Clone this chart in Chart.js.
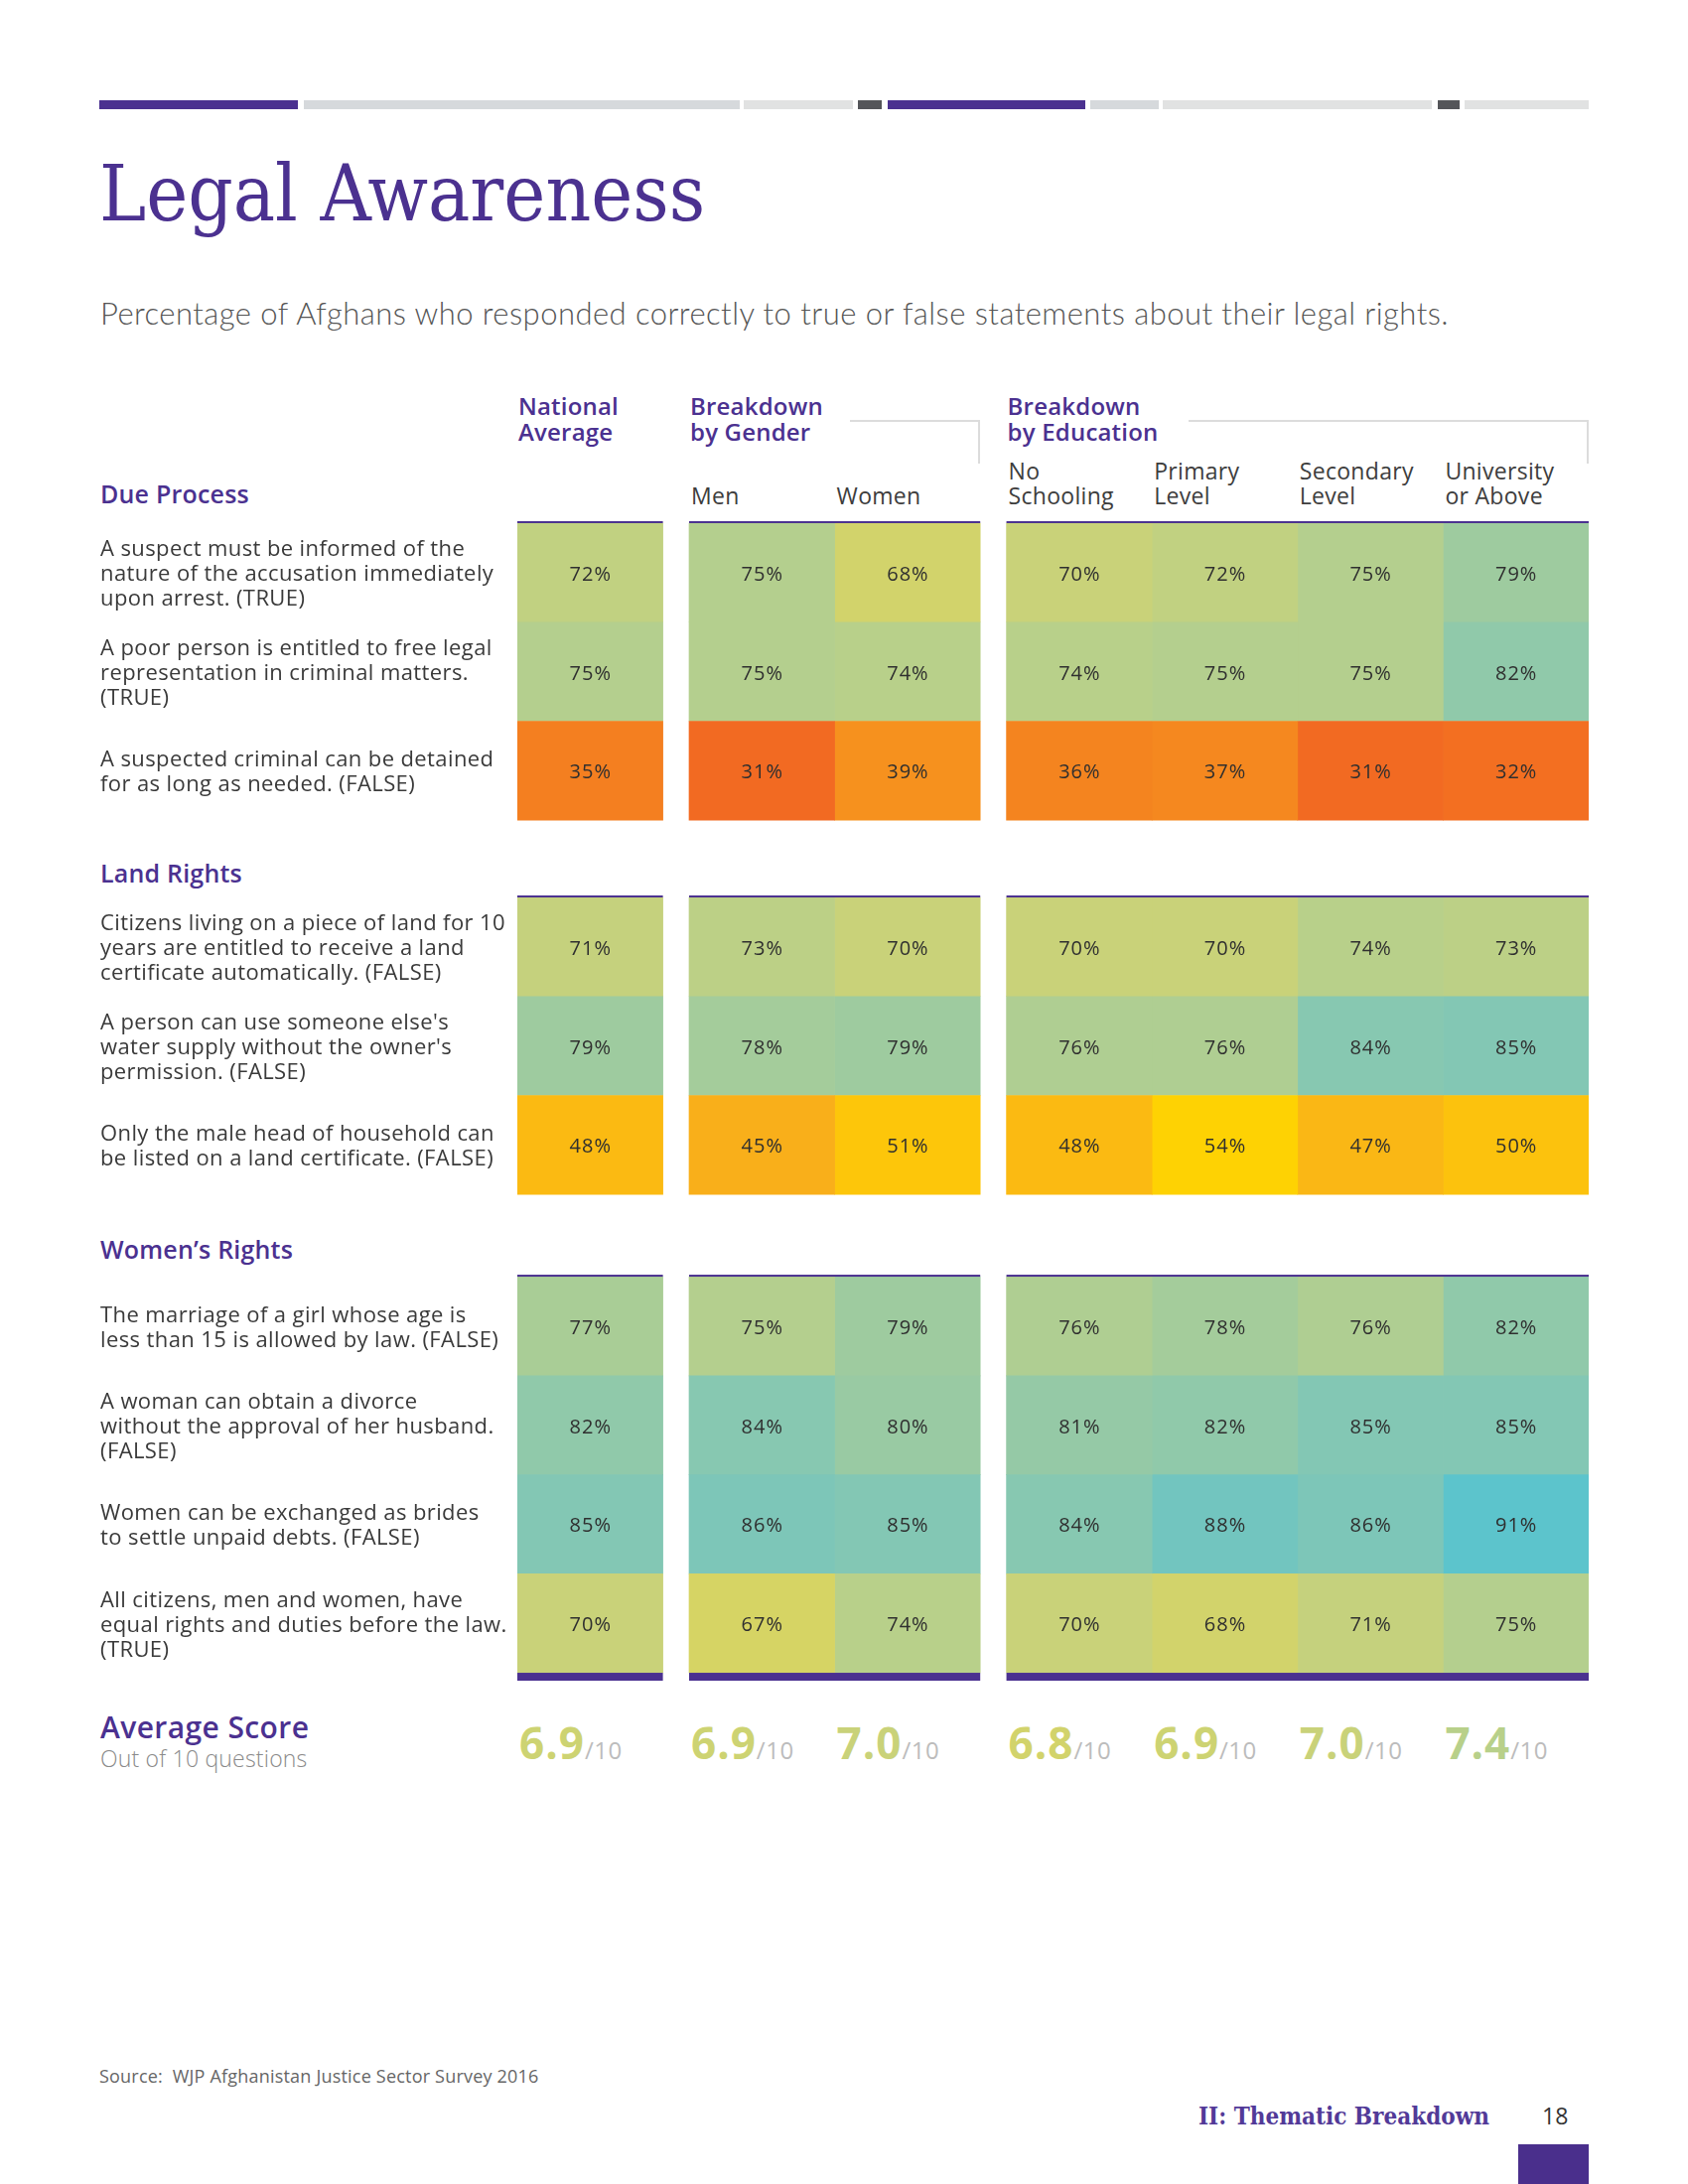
<!DOCTYPE html>
<html>
<head>
<meta charset="utf-8">
<title>Legal Awareness</title>
<script src="https://cdn.jsdelivr.net/npm/chart.js@4.4.1/dist/chart.umd.min.js"></script>
<style>
  html, body { margin: 0; padding: 0; background: #fff; }
  #page { position: relative; width: 1700px; height: 2200px; overflow: hidden; font-family: 'Open Sans', Lato, sans-serif; color: #3a3a3a; }
  .txt { position: absolute; white-space: pre; }
  .rule { position: absolute; }
  .stmt { position: absolute; left: 101px; width: 430px; display: flex; align-items: center; font-size: 22px; letter-spacing: 0.4px; line-height: 25px; color: #3a3a3a; white-space: pre; }
  #heat { position: absolute; left: 521px; top: 520px; width: 1079px; height: 1180px; }
</style>
</head>
<body>
<div id="page">
  <div id="heat"><canvas id="heatCanvas" width="1079" height="1180"></canvas></div>
</div>
<script>
// --- data ---------------------------------------------------------------
const groupTitles = ['National\nAverage', 'Breakdown\nby Gender', 'Breakdown\nby Education'];
const columnLabels = ['', 'Men', 'Women', 'No\nSchooling', 'Primary\nLevel', 'Secondary\nLevel', 'University\nor Above'];
const sections = ['Due Process', 'Land Rights', 'Women\u2019s Rights'];

const statements = [
  'A suspect must be informed of the\nnature of the accusation immediately\nupon arrest. (TRUE)',
  'A poor person is entitled to free legal\nrepresentation in criminal matters.\n(TRUE)',
  'A suspected criminal can be detained\nfor as long as needed. (FALSE)',
  'Citizens living on a piece of land for 10\nyears are entitled to receive a land\ncertificate automatically. (FALSE)',
  'A person can use someone else\'s\nwater supply without the owner\'s\npermission. (FALSE)',
  'Only the male head of household can\nbe listed on a land certificate. (FALSE)',
  'The marriage of a girl whose age is\nless than 15 is allowed by law. (FALSE)',
  'A woman can obtain a divorce\nwithout the approval of her husband.\n(FALSE)',
  'Women can be exchanged as brides\nto settle unpaid debts. (FALSE)',
  'All citizens, men and women, have\nequal rights and duties before the law.\n(TRUE)'
];
const statementSection = [0, 0, 0, 1, 1, 1, 2, 2, 2, 2];

const national    = [72, 75, 35, 71, 79, 48, 77, 82, 85, 70];
const men         = [75, 75, 31, 73, 78, 45, 75, 84, 86, 67];
const women       = [68, 74, 39, 70, 79, 51, 79, 80, 85, 74];
const noSchooling = [70, 74, 36, 70, 76, 48, 76, 81, 84, 70];
const primary     = [72, 75, 37, 70, 76, 54, 78, 82, 88, 68];
const secondary   = [75, 75, 31, 74, 84, 47, 76, 85, 86, 71];
const university  = [79, 82, 32, 73, 85, 50, 82, 85, 91, 75];
const series = [national, men, women, noSchooling, primary, secondary, university];

const averageScores = [6.9, 6.9, 7.0, 6.8, 6.9, 7.0, 7.4];

// --- layout / style -----------------------------------------------------
const PURPLE = '#4B3190';
const GAP = 0.18;                       // gap between column groups, in column widths
const colX = [0, 1 + GAP, 2 + GAP, 3 + 2 * GAP, 4 + 2 * GAP, 5 + 2 * GAP, 6 + 2 * GAP];
const groups = [[0, 0], [1, 2], [3, 6]];
const sectionStart = [0, 3.78, 7.61];   // in row heights
const sectionHeadOffset = [20, 15, 18];
const gridEnd = 11.61;
const barEnd = 11.69;

const colorStops = [
  [30, '#F26522'], [35, '#F47F20'], [40, '#F6961D'], [45, '#F9AF1A'], [50, '#FCC20D'],
  [55, '#FFD600'], [67, '#D6D464'], [70, '#C9D279'], [75, '#B4CF8E'], [80, '#99CAA3'],
  [85, '#83C7B4'], [88, '#72C5BF'], [91, '#5CC4CC']
];

const hexToRgb = (h) => [1, 3, 5].map((i) => parseInt(h.substr(i, 2), 16));
const colorFor = (v) => {
  if (v <= colorStops[0][0]) return colorStops[0][1];
  for (let i = 1; i < colorStops.length; i++) {
    const [v1, c1] = colorStops[i];
    if (v <= v1) {
      const [v0, c0] = colorStops[i - 1];
      const t = (v - v0) / (v1 - v0);
      const a = hexToRgb(c0), b = hexToRgb(c1);
      return 'rgb(' + a.map((x, k) => Math.round(x + (b[k] - x) * t)).join(',') + ')';
    }
  }
  return colorStops[colorStops.length - 1][1];
};

const rowTop = statements.map((s, i) => {
  const sec = statementSection[i];
  return sectionStart[sec] + statementSection.slice(0, i).filter((x) => x === sec).length;
});

const page = document.getElementById('page');

// places text so that its first line sits on the given baseline (Open Sans metrics by default)
const place = (text, x, baseline, o) => {
  const size = o.size, lh = o.lh || size * 1.2;
  const asc = o.asc || 1.069, desc = o.desc || 0.293;
  const el = document.createElement('div');
  el.className = 'txt';
  el.style.left = x + 'px';
  el.style.top = (baseline - ((lh - (asc + desc) * size) / 2 + asc * size)) + 'px';
  el.style.fontSize = size + 'px';
  el.style.lineHeight = lh + 'px';
  el.style.fontWeight = o.weight || 400;
  el.style.color = o.color || '#3a3a3a';
  if (o.family) el.style.fontFamily = o.family;
  if (o.spacing) el.style.letterSpacing = o.spacing;
  if (o.html) el.innerHTML = text; else el.textContent = text;
  page.appendChild(el);
  return el;
};

const rule = (x, y, w, h, color) => {
  const el = document.createElement('div');
  el.className = 'rule';
  Object.assign(el.style, { left: x + 'px', top: y + 'px', width: w + 'px', height: h + 'px', background: color });
  page.appendChild(el);
};

// top navigation bar
const topBar = [
  [100, 300, PURPLE], [306, 745, '#D6D9DC'], [749, 859, '#E1E2E2'], [864, 888, '#545559'],
  [894, 1093, PURPLE], [1098, 1167, '#D6D9DC'], [1171, 1442, '#E1E2E2'], [1448, 1470, '#545559'],
  [1475, 1600, '#E1E2E2']
];
topBar.forEach(([a, b, c]) => rule(a, 101, b - a, 9, c));

const SERIF = "'DejaVu Serif Condensed', 'DejaVu Serif', serif";
const LATO = { asc: 0.987, desc: 0.213, family: 'Lato, sans-serif' };
place('Legal Awareness', 100, 223, { size: 79, color: PURPLE, family: SERIF, asc: 0.928, desc: 0.236 });
place('Percentage of Afghans who responded correctly to true or false statements about their legal rights.',
  101, 328, { size: 31, weight: 300, color: '#555', ...LATO, spacing: '0.45px' });

// --- heatmap ------------------------------------------------------------
const datasets = series.map((vals, j) => ({
  label: columnLabels[j] || 'National Average',
  data: vals.map((v, i) => ({ x: colX[j], y: [rowTop[i], rowTop[i] + 1] })),
  values: vals,
  backgroundColor: vals.map(colorFor),
  borderWidth: 0,
  grouped: false,
  barPercentage: 1,
  categoryPercentage: 1
}));

const decorations = {
  id: 'decorations',
  afterDatasetsDraw(chart) {
    const { ctx, scales: { x, y } } = chart;
    ctx.save();
    groups.forEach(([a, b]) => {
      const left = x.getPixelForValue(colX[a] - 0.5);
      const right = x.getPixelForValue(colX[b] + 0.5);
      ctx.fillStyle = PURPLE;
      sectionStart.forEach((s) => {
        const py = y.getPixelForValue(s);
        ctx.fillRect(left, py - 2, right - left, 2);
      });
      const y0 = y.getPixelForValue(gridEnd), y1 = y.getPixelForValue(barEnd);
      ctx.fillRect(left, y0, right - left, y1 - y0);
    });
    // value labels
    ctx.font = '400 20px "Open Sans", sans-serif';
    ctx.fillStyle = '#2f2f2f';
    ctx.textAlign = 'center';
    ctx.textBaseline = 'alphabetic';
    if ('letterSpacing' in ctx) ctx.letterSpacing = '1px';
    chart.data.datasets.forEach((ds, j) => {
      chart.getDatasetMeta(j).data.forEach((el, i) => {
        const cy = (el.y + el.base) / 2;
        ctx.fillText(ds.values[i] + '%', el.x + 0.5, cy + 8);
      });
    });
    ctx.restore();
  }
};

const chart = new Chart(document.getElementById('heatCanvas'), {
  type: 'bar',
  data: { datasets },
  options: {
    animation: false,
    responsive: false,
    events: [],
    layout: { padding: 0 },
    plugins: { legend: { display: false }, tooltip: { enabled: false } },
    scales: {
      x: {
        type: 'linear', display: false, offset: false,
        min: colX[0] - 0.5, max: colX[colX.length - 1] + 0.5,
        afterBuildTicks: (s) => { s.ticks = colX.map((v) => ({ value: v })); }
      },
      y: { type: 'linear', display: false, reverse: true, min: -0.07, max: 11.76 }
    }
  },
  plugins: [decorations]
});

// --- labels around the heatmap, positioned from the chart scales ----------
const heat = document.getElementById('heat');
const offX = heat.offsetLeft, offY = heat.offsetTop;
const xs = chart.scales.x, ys = chart.scales.y;
const colLeft = (j) => offX + xs.getPixelForValue(colX[j] - 0.5);
const colRight = (j) => offX + xs.getPixelForValue(colX[j] + 0.5);
const rowPx = (v) => offY + ys.getPixelForValue(v);

groups.forEach(([a], g) => {
  place(groupTitles[g], colLeft(a) + 1, 418, { size: 24, lh: 26, weight: 600, color: PURPLE, spacing: '0.2px' });
});
columnLabels.forEach((lab, j) => {
  if (!lab) return;
  const lines = lab.split('\n').length;
  place(lab, colLeft(j) + 2, 508 - (lines - 1) * 25, { size: 23, lh: 25, weight: 500, color: '#3d3d3d', spacing: '0.3px' });
});

// thin grey bracket lines in the header
rule(856, 423, colRight(2) - 856, 2, '#DCDCDC');
rule(colRight(2) - 2, 423, 2, 44, '#DCDCDC');
rule(1197, 423, colRight(6) - 1197, 2, '#DCDCDC');
rule(colRight(6) - 2, 423, 2, 44, '#DCDCDC');

sections.forEach((s, k) => {
  place(s, 101, rowPx(sectionStart[k]) - sectionHeadOffset[k], { size: 25, weight: 600, color: PURPLE, spacing: '0.2px' });
});

statements.forEach((s, i) => {
  const el = document.createElement('div');
  el.className = 'stmt';
  el.style.top = rowPx(rowTop[i]) + 'px';
  el.style.height = (rowPx(rowTop[i] + 1) - rowPx(rowTop[i])) + 'px';
  el.textContent = s;
  page.appendChild(el);
});

// average score row
place('Average Score', 101, 1752, { size: 30, weight: 600, color: PURPLE, spacing: '0.4px' });
place('Out of 10 questions', 101, 1781, { size: 23, weight: 300, color: '#8a8a8a', spacing: '0.2px' });
averageScores.forEach((v, j) => {
  const html = '<span style="color:' + colorFor(v * 10) + ';font-weight:700;letter-spacing:1px">' + v.toFixed(1) +
    '</span><span style="font-size:24px;color:#bcbcbc;letter-spacing:0.5px">/10</span>';
  place(html, colLeft(j) + 2, 1772, { size: 44, html: true });
});

// footer
place('Source:  WJP Afghanistan Justice Sector Survey 2016', 100, 2099, { size: 18, color: '#666', spacing: '0.2px' });
place('II: Thematic Breakdown', 1207, 2141, { size: 24, weight: 700, color: '#523A98', family: SERIF, asc: 0.928, desc: 0.236 });
place('18', 1553, 2141, { size: 23, color: '#333' });
rule(1529, 2160, 71, 40, '#4A2F8C');
</script>
</body>
</html>
